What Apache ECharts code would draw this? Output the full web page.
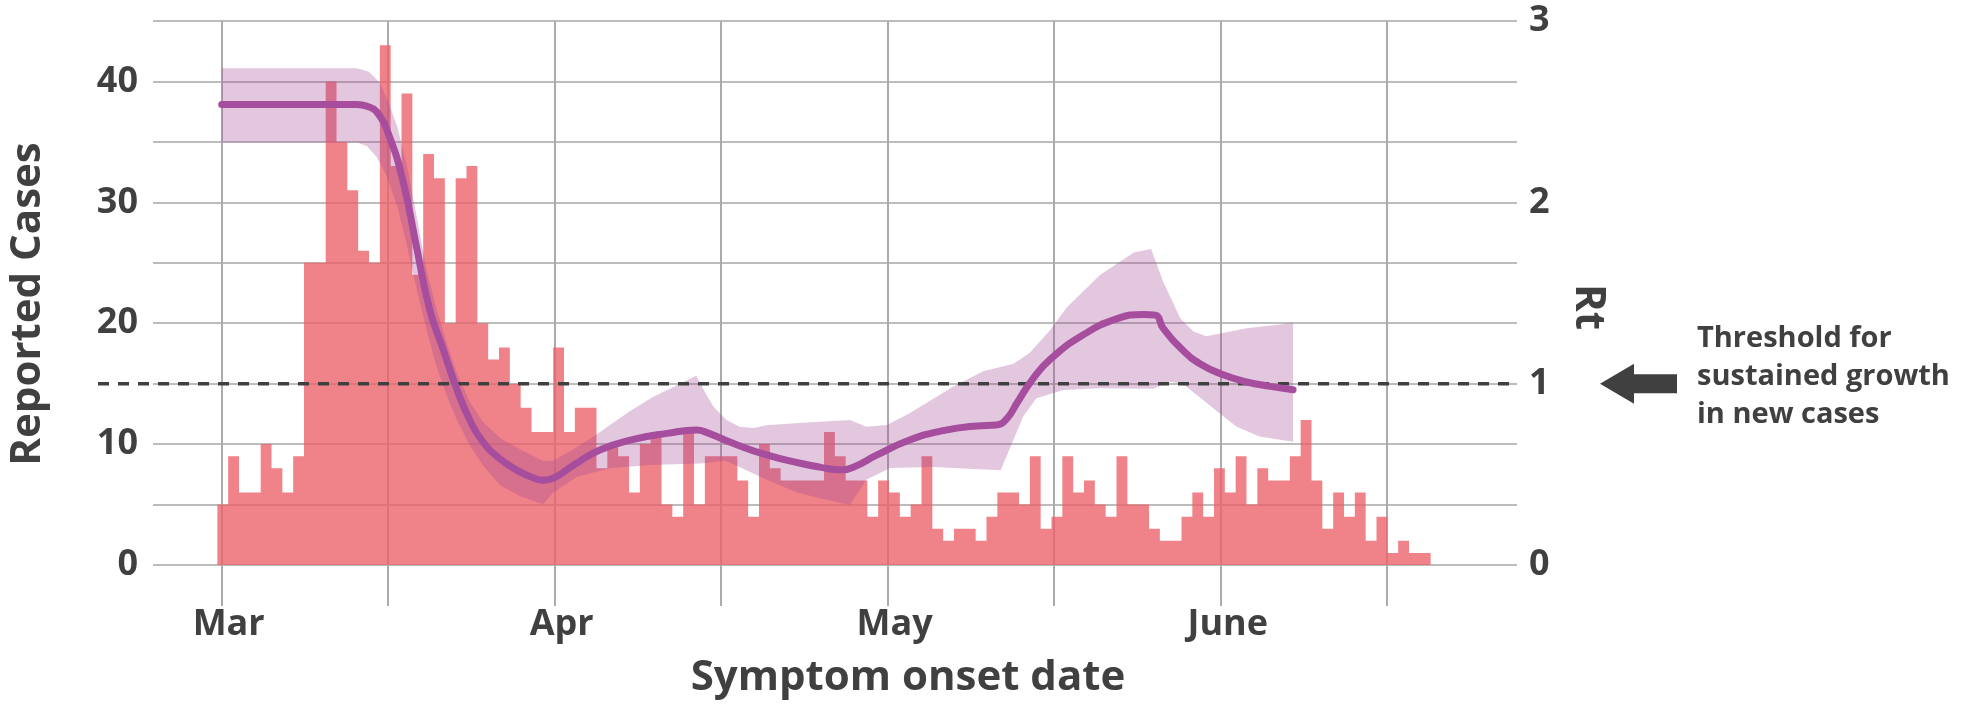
<!DOCTYPE html>
<html>
<head>
<meta charset="utf-8">
<script src="https://cdn.jsdelivr.net/npm/echarts@6/dist/echarts.min.js"></script>
<style>
html,body{margin:0;padding:0;background:#ffffff;}
#chart{width:1969px;height:709px;}
</style>
</head>
<body>
<div id="chart"></div>
<script>
// ---------------- data (day 0 = 1 March) ----------------
const cases = [5,9,6,6,10,8,6,9,25,25,40,35,31,26,25,43,33,39,24,34,
  32,20,32,33,20,17,18,15,13,11,11,18,11,13,13,8,10,9,6,10,
  11,5,4,11,5,9,9,9,7,4,10,8,7,7,7,7,11,9,7,7,
  4,7,6,4,5,9,3,2,3,3,2,4,6,6,5,9,3,4,9,6,
  7,5,4,9,5,5,3,2,2,4,6,4,8,6,9,5,8,7,7,9,
  12,7,3,6,4,6,2,4,1,2,1,1];

const rtDay = [-0.1,6.2,12.4,13.3,14.2,15.4,16.7,17.9,19.1,20.4,21.6,22.8,24.0,25.6,27.4,28.6,29.6,30.5,32.4,34.8,37.9,
  41.0,43.75,44.7,47.1,50.2,53.3,55.1,57.0,58.2,60.4,63.4,66.5,69.6,71.4,72.4,73.3,74.7,76.4,79.4,82.5,
  85.0,86.1,86.8,88.7,90.2,92.1,94.5,96.7,98.8];
const rtMid = [2.54,2.54,2.54,2.53,2.50,2.36,2.10,1.75,1.41,1.18,0.97,0.80,0.68,0.585,0.515,0.482,0.468,0.478,0.551,0.634,0.693,
  0.726,0.744,0.73,0.671,0.607,0.561,0.54,0.525,0.539,0.607,0.689,0.741,0.767,0.772,0.809,0.892,1.02,1.135,1.268,1.357,
  1.382,1.378,1.306,1.18,1.11,1.055,1.01,0.985,0.966];

const bandUpDay = [-0.1,12.4,13.5,14.5,15.3,16.1,17.0,17.9,18.8,19.7,20.7,21.6,22.8,24.0,25.6,27.4,29.6,30.5,32.4,34.5,
  37.5,39.7,41.9,43.7,44.4,45.3,46.5,47.7,49.0,50.2,53.2,55.1,57.9,59.4,61.3,63.4,65.9,67.4,70.2,73.0,
  74.5,76.4,77.9,81.0,84.1,85.7,86.8,88.4,89.6,90.8,94.5,98.8];
const bandUp = [2.74,2.74,2.72,2.66,2.55,2.42,2.20,1.92,1.63,1.42,1.22,1.06,0.90,0.79,0.70,0.64,0.573,0.575,0.64,0.72,
  0.845,0.926,0.99,1.044,0.965,0.873,0.80,0.763,0.755,0.77,0.783,0.79,0.80,0.763,0.772,0.837,0.928,0.983,1.068,1.11,
  1.17,1.297,1.42,1.60,1.724,1.743,1.563,1.36,1.287,1.262,1.306,1.335];

const bandLoDay = [-0.1,12.4,13.3,14.2,15.1,16.1,17.0,17.9,18.8,19.7,20.7,21.6,22.8,24.0,25.6,27.4,29.6,30.5,32.7,35.75,
  39.4,44.1,46.4,47.7,50.2,53.0,55.1,57.9,59.4,61.6,65.6,71.8,72.7,73.9,75.1,77.6,81.0,85.9,87.4,88.6,
  90.5,92.0,93.6,95.7,98.8];
const bandLo = [2.33,2.33,2.31,2.25,2.15,1.98,1.76,1.52,1.30,1.10,0.93,0.80,0.66,0.55,0.44,0.38,0.335,0.40,0.487,0.533,
  0.551,0.56,0.575,0.54,0.47,0.40,0.368,0.331,0.47,0.535,0.54,0.522,0.65,0.82,0.92,0.965,0.975,0.972,1.01,1.0,
  0.91,0.837,0.763,0.708,0.68];

const threshold = 1;
const tickDays = [-0.1, 15.27, 30.64, 46.01, 61.38, 76.75, 92.12, 107.49];
const tickLabels = ['Mar', '', 'Apr', '', 'May', '', 'June', ''];
const annotationLines = ['Threshold for', 'sustained growth', 'in new cases'];

// ---------------- style ----------------
const FONT = "'Open Sans', 'Noto Sans', sans-serif";
const TXT = '#404040';
const GRID_H = '#bcbcbc';
const GRID_V = '#ababab';
const BAR_FILL = 'rgba(236,96,104,0.78)';
const BAND_FILL = 'rgba(160,70,150,0.30)';
const LINE_COLOR = '#a64d9e';

const chart = echarts.init(document.getElementById('chart'), null, {renderer: 'canvas'});

const labelledTicks = tickDays.filter((d, i) => tickLabels[i] !== '');
function tickLabelFor(v) {
  let best = 0, bd = Infinity;
  tickDays.forEach((d, i) => { const dd = Math.abs(d - v); if (dd < bd) { bd = dd; best = i; } });
  return tickLabels[best];
}

const option = {
  animation: false,
  backgroundColor: '#ffffff',
  grid: [
    {left: 153, right: 452, top: 21, bottom: 144, outerBoundsMode: 'none', containLabel: false},
    {left: 98, right: 452, top: 21, bottom: 144, outerBoundsMode: 'none', containLabel: false}
  ],
  xAxis: [
    {
      type: 'value', gridIndex: 0, min: -6.44, max: 119.47,
      axisLine: {show: false},
      axisTick: {show: true, customValues: tickDays, length: 41, lineStyle: {color: GRID_V, width: 2}},
      splitLine: {show: true, lineStyle: {color: GRID_V, width: 2}},
      axisLabel: {
        customValues: labelledTicks, formatter: (v) => tickLabelFor(v),
        color: TXT, fontFamily: FONT, fontWeight: 'bold', fontSize: 36, margin: 42, padding: [0, 0, 0, 14]
      },
      name: 'Symptom onset date', nameLocation: 'middle', nameGap: 92,
      nameTextStyle: {color: TXT, fontFamily: FONT, fontWeight: 'bold', fontSize: 42, padding: [0, 0, 0, 146]}
    },
    {type: 'value', gridIndex: 1, min: 0, max: 1, show: false}
  ],
  yAxis: [
    {
      type: 'value', gridIndex: 0, min: 0, max: 45, interval: 5, position: 'left',
      axisLine: {show: false}, axisTick: {show: false},
      splitLine: {show: true, lineStyle: {color: GRID_H, width: 2}},
      axisLabel: {
        formatter: (v) => (v % 10 === 0 ? String(v) : ''),
        color: TXT, fontFamily: FONT, fontWeight: 'bold', fontSize: 36, margin: 15
      },
      name: 'Reported Cases', nameLocation: 'middle', nameGap: 104,
      nameTextStyle: {color: TXT, fontFamily: FONT, fontWeight: 'bold', fontSize: 42, padding: [0, 22, 0, 0]}
    },
    {
      type: 'value', gridIndex: 0, min: 0, max: 3, interval: 1, position: 'right',
      axisLine: {show: false}, axisTick: {show: false}, splitLine: {show: false},
      axisLabel: {color: TXT, fontFamily: FONT, fontWeight: 'bold', fontSize: 36, margin: 12},
      name: 'Rt', nameLocation: 'middle', nameRotate: -90, nameGap: 50,
      nameTextStyle: {color: TXT, fontFamily: FONT, fontWeight: 'bold', fontSize: 42, padding: [0, 0, 0, 28]}
    },
    {type: 'value', gridIndex: 1, min: 0, max: 3, show: false}
  ],
  series: [
    {
      name: 'cases', type: 'custom', xAxisIndex: 0, yAxisIndex: 0, z: 2, silent: true,
      data: cases.map((v, i) => [i, v]),
      renderItem: function (params, api) {
        if (params.dataIndex !== 0) return null;
        const pts = [api.coord([-0.5, 0])];
        cases.forEach((v, i) => {
          pts.push(api.coord([i - 0.5, v]));
          pts.push(api.coord([i + 0.5, v]));
        });
        pts.push(api.coord([cases.length - 0.5, 0]));
        return {type: 'polygon', shape: {points: pts}, style: {fill: BAR_FILL}};
      }
    },
    {
      name: 'band', type: 'custom', xAxisIndex: 0, yAxisIndex: 1, z: 3, silent: true,
      data: bandUpDay.map((d, i) => [d, bandUp[i]]),
      renderItem: function (params, api) {
        if (params.dataIndex !== 0) return null;
        const pts = [];
        bandUpDay.forEach((d, i) => pts.push(api.coord([d, bandUp[i]])));
        for (let i = bandLoDay.length - 1; i >= 0; i--) pts.push(api.coord([bandLoDay[i], bandLo[i]]));
        return {type: 'polygon', shape: {points: pts}, style: {fill: BAND_FILL}};
      }
    },
    {
      name: 'threshold', type: 'line', xAxisIndex: 1, yAxisIndex: 2, z: 4, silent: true,
      data: [[0, threshold], [1, threshold]], symbol: 'none',
      lineStyle: {color: TXT, width: 3.5, type: [11, 9]}
    },
    {
      name: 'Rt', type: 'line', xAxisIndex: 0, yAxisIndex: 1, z: 5, silent: true,
      data: rtDay.map((d, i) => [d, rtMid[i]]), symbol: 'none',
      smooth: 0.5,
      lineStyle: {color: LINE_COLOR, width: 7, cap: 'round', join: 'round'}
    }
  ]
};
chart.setOption(option);

// annotation: arrow + text, anchored to the threshold level on the Rt axis
const yThr = chart.convertToPixel({yAxisIndex: 1}, threshold);
chart.setOption({
  graphic: [
    {
      type: 'polygon', silent: true,
      shape: {points: [
        [1600, yThr], [1634, yThr - 20], [1634, yThr - 9.5], [1677, yThr - 9.5],
        [1677, yThr + 9.5], [1634, yThr + 9.5], [1634, yThr + 20]
      ]},
      style: {fill: TXT}
    },
    {
      type: 'text', silent: true, x: 1697, y: yThr - 64,
      style: {
        text: annotationLines.join('\n'), fill: TXT, fontFamily: FONT, fontWeight: 'bold',
        fontSize: 29, lineHeight: 38, align: 'left', verticalAlign: 'top'
      }
    }
  ]
});
</script>
</body>
</html>
